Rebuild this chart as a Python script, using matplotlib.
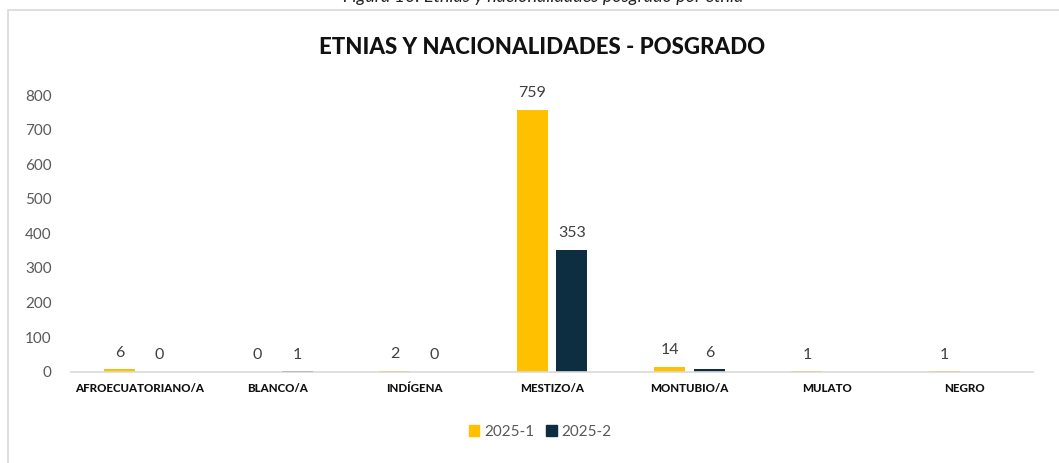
import matplotlib.pyplot as plt
import matplotlib as mpl
import numpy as np

categories = ['AFROECUATORIANO/A', 'BLANCO/A', 'INDÍGENA', 'MESTIZO/A',
              'MONTUBIO/A', 'MULATO', 'NEGRO']
serie_2025_1 = [6, 0, 2, 759, 14, 1, 1]
serie_2025_2 = [0, 1, 0, 353, 6, None, None]
series_names = ['2025-1', '2025-2']
colors = ['#FFC000', '#0D2E40']

plt.rcParams['font.family'] = ['Lato', 'DejaVu Sans']

fig = plt.figure(figsize=(10.59, 4.63), dpi=100)
ax = fig.add_axes([0.067, 0.1975, 0.9085, 0.5965])

# chart frame
fig.patches.append(mpl.patches.Rectangle((8 / 1059, -0.1), 1.1, 1 - 10 / 463 + 0.1,
                                         transform=fig.transFigure, fill=False,
                                         edgecolor='#D9D9D9', linewidth=1.2))

# caption cut by the top edge
fig.text(0.513, 1.0 - 2 / 463, 'Figura 10. Etnias y nacionalidades posgrado por etnia',
         ha='center', va='baseline', fontsize=13, style='italic', color='#222222')

x = np.arange(len(categories))
w = 0.225
off = 0.29
for i, (vals, c) in enumerate(zip([serie_2025_1, serie_2025_2], colors)):
    pos = x + (-off / 2 if i == 0 else off / 2)
    for p, v in zip(pos, vals):
        if v is None:
            continue
        ax.bar(p, v, width=w, color=c)
        ax.text(p, v + 28, str(v), ha='center', va='bottom', fontsize=11.5,
                color='#404040', clip_on=False)

ax.set_xlim(-0.5, len(categories) - 0.5)
ax.set_ylim(0, 800)
ax.set_yticks(range(0, 801, 100))
ax.set_xticks(x)
ax.set_xticklabels(categories, fontsize=8.3, fontweight='black', color='#111111')
ax.tick_params(axis='y', labelsize=11, labelcolor='#595959', length=0, pad=14)
ax.tick_params(axis='x', length=0, pad=8)
for s in ['top', 'right', 'left']:
    ax.spines[s].set_visible(False)
ax.spines['bottom'].set_color('#D9D9D9')
ax.spines['bottom'].set_linewidth(1.2)

fig.text(0.512, 1 - 47 / 463, 'ETNIAS Y NACIONALIDADES - POSGRADO', ha='center',
         va='center', fontsize=16, fontweight='black', color='#111111')

handles = [mpl.patches.Patch(color=c) for c in colors]
fig.legend(handles, series_names, loc='center', bbox_to_anchor=(0.51, 1 - 432 / 463),
           ncol=2, frameon=False, fontsize=11, handlelength=0.7, handleheight=0.7,
           handletextpad=0.3, columnspacing=0.8, labelcolor='#595959')

plt.savefig('out.png', dpi=100)
